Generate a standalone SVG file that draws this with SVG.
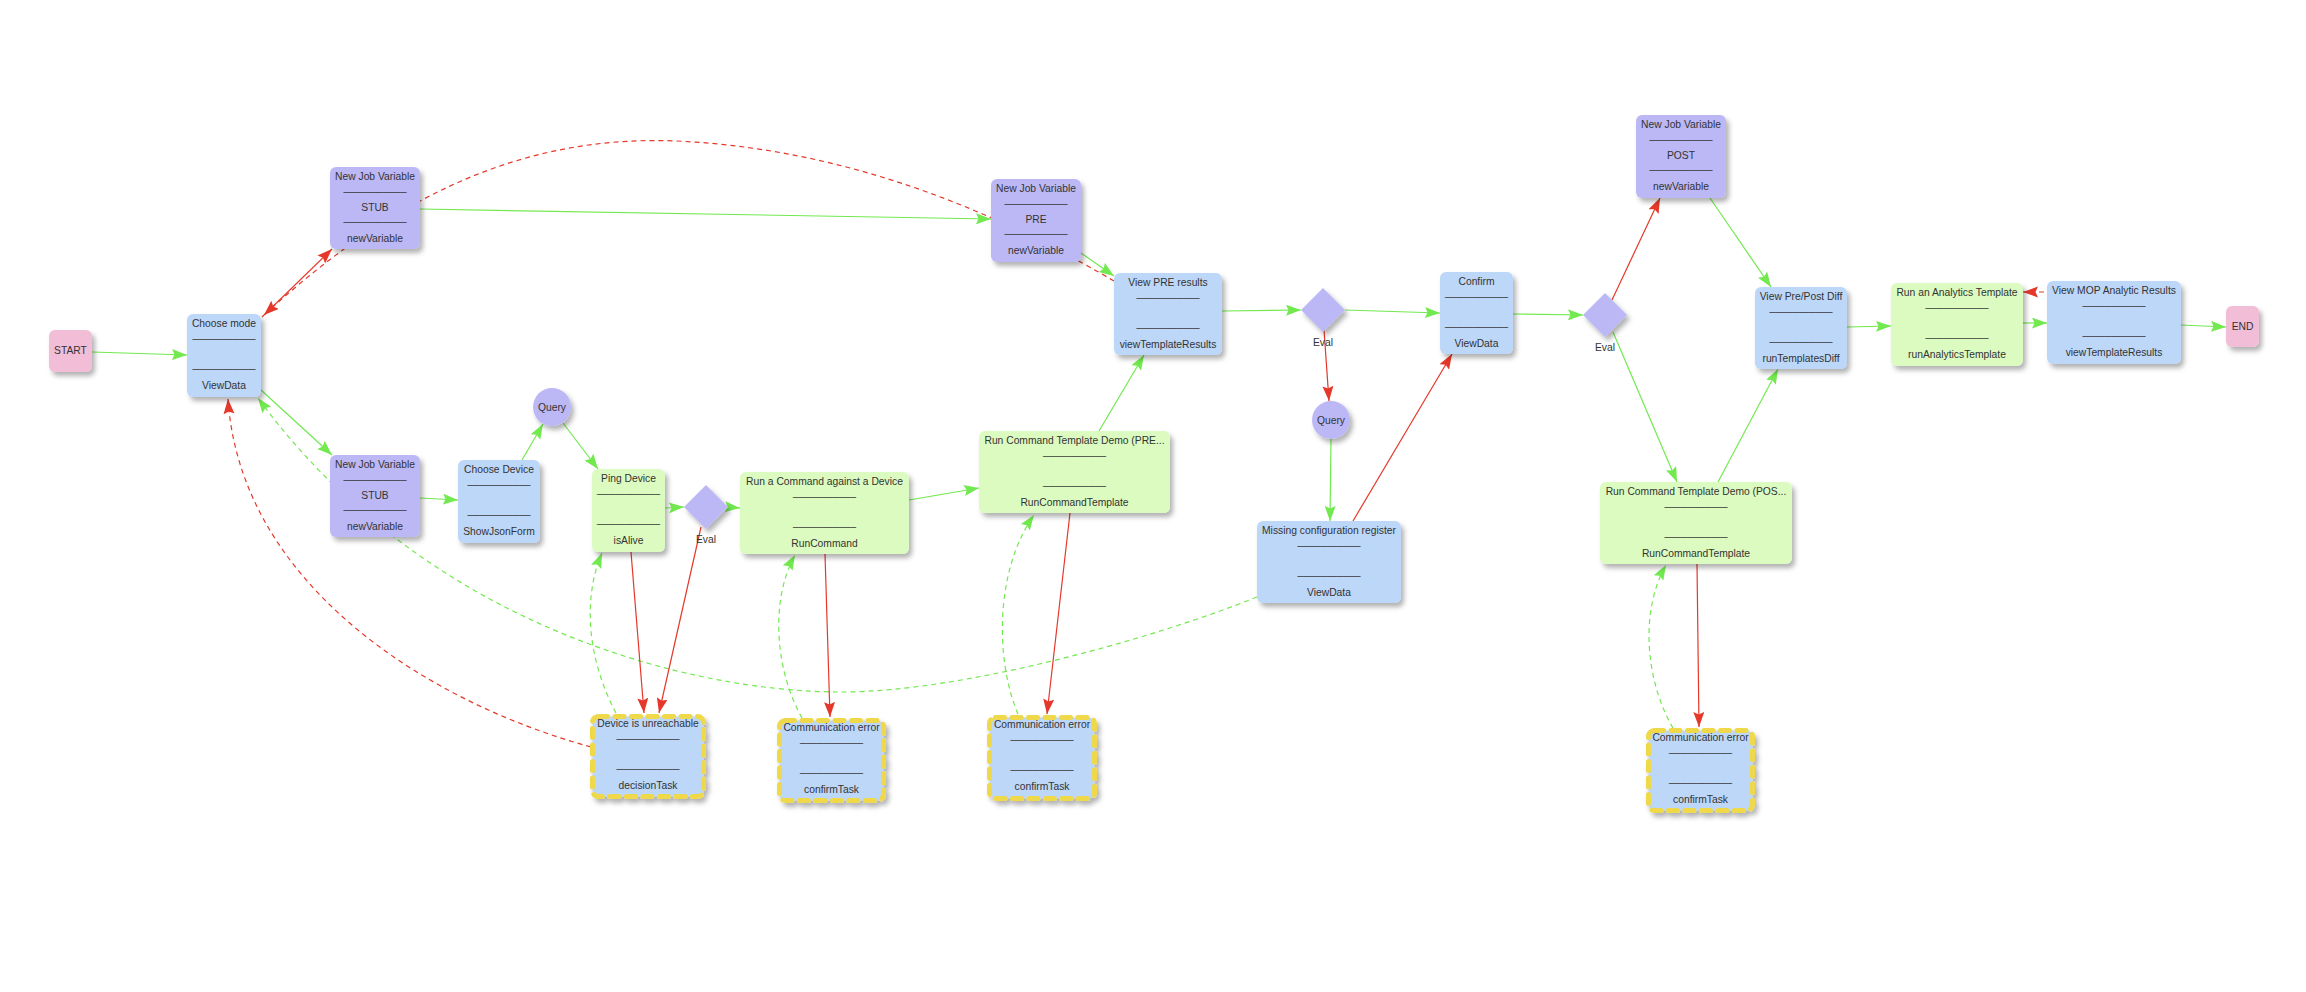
<svg xmlns="http://www.w3.org/2000/svg" width="2306" height="992" viewBox="0 0 2306 992">
<defs>
<filter id="sh" x="-20%" y="-20%" width="150%" height="150%">
<feDropShadow dx="3" dy="4" stdDeviation="2.5" flood-color="#000" flood-opacity="0.3"/>
</filter>
<marker id="ag" markerUnits="userSpaceOnUse" markerWidth="16" markerHeight="12" refX="15" refY="5.5" orient="auto">
<path d="M0,0 L15,5.5 L0,11 L2.5,5.5 z" fill="#72e94f"/>
</marker>
<marker id="ar" markerUnits="userSpaceOnUse" markerWidth="16" markerHeight="12" refX="15" refY="5.5" orient="auto">
<path d="M0,0 L15,5.5 L0,11 L2.5,5.5 z" fill="#e5382a"/>
</marker>
<style>
.t{font-family:"Liberation Sans",Arial,Helvetica,sans-serif;font-size:10.3px;fill:#333;text-anchor:middle}
.pu{fill:#bcb8f6;filter:url(#sh)}
.bl{fill:#bdd7f9;filter:url(#sh)}
.gr{fill:#dcfbc1;filter:url(#sh)}
.pk{fill:#f2bdd7;filter:url(#sh)}
.er{fill:#bdd7f9;stroke:#efd94b;stroke-width:5;stroke-dasharray:9 7.5;stroke-linecap:round;filter:url(#sh)}
.g{fill:none;stroke:#72e94f;stroke-width:1.2;marker-end:url(#ag)}
.r{fill:none;stroke:#e5382a;stroke-width:1.2;marker-end:url(#ar)}
.d{stroke-dasharray:5 4}
</style>
</defs>
<rect width="2306" height="992" fill="#fff"/>
<g id="connectors">
<path class="g" d="M92,352 L187,355"/>
<path class="r" d="M262,317 L332,249"/>
<path class="r d" d="M1114,281 C1040,238 880,150 676,141 C530,135 400,190 264,315"/>
<path class="g" d="M420,209 L991,219"/>
<path class="g" d="M261,390 L332,455"/>
<path class="g d" d="M1257,597 C1150,640 960,692 842,692 C680,692 420,620 258,398"/>
<path class="g" d="M420,498 L458,500"/>
<path class="g" d="M522,460 L543,424"/>
<path class="g" d="M563,423 L598,469"/>
<path class="g" d="M665,508 L684,507"/>
<path class="g" d="M728,507 L740,508"/>
<path class="r" d="M631,552 L644,713"/>
<path class="r" d="M701,527 L659,713"/>
<path class="g d" d="M616,713 C588,660 582,600 602,553"/>
<path class="r d" d="M591,747 C420,700 240,580 228,399"/>
<path class="g" d="M909,500 L979,488"/>
<path class="r" d="M825,554 L830,717"/>
<path class="g d" d="M802,718 C775,670 770,600 795,555"/>
<path class="g" d="M1099,431 L1144,355"/>
<path class="r" d="M1070,513 L1047,714"/>
<path class="g d" d="M1018,714 C995,660 995,570 1034,515"/>
<path class="g" d="M1081,253 L1114,276"/>
<path class="g" d="M1222,311 L1301,310"/>
<path class="g" d="M1345,310 L1440,313"/>
<path class="r" d="M1324,330 L1329,401"/>
<path class="g" d="M1331,439 L1330,521"/>
<path class="r" d="M1353,521 L1452,354"/>
<path class="g" d="M1513,314 L1583,315"/>
<path class="r" d="M1612,300 L1660,198"/>
<path class="g" d="M1613,332 L1677,482"/>
<path class="g" d="M1710,198 L1771,287"/>
<path class="g" d="M1718,482 L1778,369"/>
<path class="r" d="M1697,564 L1699,727"/>
<path class="g d" d="M1673,728 C1645,680 1640,610 1666,565"/>
<path class="g" d="M1847,327 L1891,326"/>
<path class="g" d="M2023,323 L2047,323"/>
<path class="r d" d="M2044,292 L2023,292"/>
<path class="g" d="M2181,325 L2226,327"/>
</g>
<g id="start"><rect class="pk" x="49" y="330" width="43" height="42" rx="6"/><text class="t" x="70.5" y="354">START</text></g>
<g id="choose-mode"><rect class="bl" x="187" y="314" width="74" height="83" rx="6"/>
<text class="t" x="224" y="327">Choose mode</text><text class="t" x="224" y="337.5">___________</text><text class="t" x="224" y="367.5">___________</text><text class="t" x="224" y="389">ViewData</text></g>
<g id="njv-stub-top"><rect class="pu" x="330" y="167" width="90" height="82" rx="6"/>
<text class="t" x="375" y="180">New Job Variable</text><text class="t" x="375" y="190.5">___________</text><text class="t" x="375" y="211">STUB</text><text class="t" x="375" y="220.5">___________</text><text class="t" x="375" y="242">newVariable</text></g>
<g id="njv-stub-bottom"><rect class="pu" x="330" y="455" width="90" height="82" rx="6"/>
<text class="t" x="375" y="468">New Job Variable</text><text class="t" x="375" y="478.5">___________</text><text class="t" x="375" y="499">STUB</text><text class="t" x="375" y="508.5">___________</text><text class="t" x="375" y="530">newVariable</text></g>
<g id="choose-device"><rect class="bl" x="458" y="460" width="82" height="83" rx="6"/>
<text class="t" x="499" y="473">Choose Device</text><text class="t" x="499" y="483.5">___________</text><text class="t" x="499" y="513.5">___________</text><text class="t" x="499" y="535">ShowJsonForm</text></g>
<g id="query-1"><circle cx="552" cy="407" r="19" fill="#bcb8f6" filter="url(#sh)"/><text class="t" x="552" y="411">Query</text></g>
<g id="ping-device"><rect class="gr" x="592" y="469" width="73" height="83" rx="6"/>
<text class="t" x="628.5" y="482">Ping Device</text><text class="t" x="628.5" y="492.5">___________</text><text class="t" x="628.5" y="522.5">___________</text><text class="t" x="628.5" y="544">isAlive</text></g>
<g id="eval-1"><polygon points="706,485 728,507 706,529 684,507" fill="#bcb8f6" filter="url(#sh)"/><text class="t" x="706" y="543">Eval</text></g>
<g id="run-command"><rect class="gr" x="740" y="472" width="169" height="82" rx="6"/>
<text class="t" x="824.5" y="485">Run a Command against a Device</text><text class="t" x="824.5" y="495.5">___________</text><text class="t" x="824.5" y="525.5">___________</text><text class="t" x="824.5" y="547">RunCommand</text></g>
<g id="device-unreachable"><rect class="er" x="592.5" y="716.5" width="111" height="80" rx="6"/>
<text class="t" x="648" y="727">Device is unreachable</text><text class="t" x="648" y="737.5">___________</text><text class="t" x="648" y="767.5">___________</text><text class="t" x="648" y="789">decisionTask</text></g>
<g id="comm-error-1"><rect class="er" x="779.5" y="720.5" width="104" height="80" rx="6"/>
<text class="t" x="831.5" y="731">Communication error</text><text class="t" x="831.5" y="741.5">___________</text><text class="t" x="831.5" y="771.5">___________</text><text class="t" x="831.5" y="793">confirmTask</text></g>
<g id="rct-pre"><rect class="gr" x="979" y="431" width="191" height="82" rx="6"/>
<text class="t" x="1074.5" y="444">Run Command Template Demo (PRE...</text><text class="t" x="1074.5" y="454.5">___________</text><text class="t" x="1074.5" y="484.5">___________</text><text class="t" x="1074.5" y="506">RunCommandTemplate</text></g>
<g id="comm-error-2"><rect class="er" x="989.5" y="717.5" width="105" height="81" rx="6"/>
<text class="t" x="1042" y="728">Communication error</text><text class="t" x="1042" y="738.5">___________</text><text class="t" x="1042" y="768.5">___________</text><text class="t" x="1042" y="790">confirmTask</text></g>
<g id="njv-pre"><rect class="pu" x="991" y="179" width="90" height="83" rx="6"/>
<text class="t" x="1036" y="192">New Job Variable</text><text class="t" x="1036" y="202.5">___________</text><text class="t" x="1036" y="223">PRE</text><text class="t" x="1036" y="232.5">___________</text><text class="t" x="1036" y="254">newVariable</text></g>
<g id="view-pre"><rect class="bl" x="1114" y="273" width="108" height="82" rx="6"/>
<text class="t" x="1168" y="286">View PRE results</text><text class="t" x="1168" y="296.5">___________</text><text class="t" x="1168" y="326.5">___________</text><text class="t" x="1168" y="348">viewTemplateResults</text></g>
<g id="eval-2"><polygon points="1323,288 1345,310 1323,332 1301,310" fill="#bcb8f6" filter="url(#sh)"/><text class="t" x="1323" y="346">Eval</text></g>
<g id="query-2"><circle cx="1331" cy="420" r="19" fill="#bcb8f6" filter="url(#sh)"/><text class="t" x="1331" y="424">Query</text></g>
<g id="missing-config"><rect class="bl" x="1257" y="521" width="144" height="82" rx="6"/>
<text class="t" x="1329" y="534">Missing configuration register</text><text class="t" x="1329" y="544.5">___________</text><text class="t" x="1329" y="574.5">___________</text><text class="t" x="1329" y="596">ViewData</text></g>
<g id="confirm"><rect class="bl" x="1440" y="272" width="73" height="82" rx="6"/>
<text class="t" x="1476.5" y="285">Confirm</text><text class="t" x="1476.5" y="295.5">___________</text><text class="t" x="1476.5" y="325.5">___________</text><text class="t" x="1476.5" y="347">ViewData</text></g>
<g id="eval-3"><polygon points="1605,293 1627,315 1605,337 1583,315" fill="#bcb8f6" filter="url(#sh)"/><text class="t" x="1605" y="351">Eval</text></g>
<g id="njv-post"><rect class="pu" x="1636" y="115" width="90" height="83" rx="6"/>
<text class="t" x="1681" y="128">New Job Variable</text><text class="t" x="1681" y="138.5">___________</text><text class="t" x="1681" y="159">POST</text><text class="t" x="1681" y="168.5">___________</text><text class="t" x="1681" y="190">newVariable</text></g>
<g id="rct-post"><rect class="gr" x="1600" y="482" width="192" height="82" rx="6"/>
<text class="t" x="1696" y="495">Run Command Template Demo (POS...</text><text class="t" x="1696" y="505.5">___________</text><text class="t" x="1696" y="535.5">___________</text><text class="t" x="1696" y="557">RunCommandTemplate</text></g>
<g id="comm-error-3"><rect class="er" x="1648.5" y="730.5" width="104" height="80" rx="6"/>
<text class="t" x="1700.5" y="741">Communication error</text><text class="t" x="1700.5" y="751.5">___________</text><text class="t" x="1700.5" y="781.5">___________</text><text class="t" x="1700.5" y="803">confirmTask</text></g>
<g id="view-diff"><rect class="bl" x="1755" y="287" width="92" height="82" rx="6"/>
<text class="t" x="1801" y="300">View Pre/Post Diff</text><text class="t" x="1801" y="310.5">___________</text><text class="t" x="1801" y="340.5">___________</text><text class="t" x="1801" y="362">runTemplatesDiff</text></g>
<g id="run-analytics"><rect class="gr" x="1891" y="283" width="132" height="83" rx="6"/>
<text class="t" x="1957" y="296">Run an Analytics Template</text><text class="t" x="1957" y="306.5">___________</text><text class="t" x="1957" y="336.5">___________</text><text class="t" x="1957" y="358">runAnalyticsTemplate</text></g>
<g id="view-mop"><rect class="bl" x="2047" y="281" width="134" height="83" rx="6"/>
<text class="t" x="2114" y="294">View MOP Analytic Results</text><text class="t" x="2114" y="304.5">___________</text><text class="t" x="2114" y="334.5">___________</text><text class="t" x="2114" y="356">viewTemplateResults</text></g>
<g id="end"><rect class="pk" x="2226" y="306" width="33" height="41" rx="6"/><text class="t" x="2242.5" y="330">END</text></g>
</svg>
